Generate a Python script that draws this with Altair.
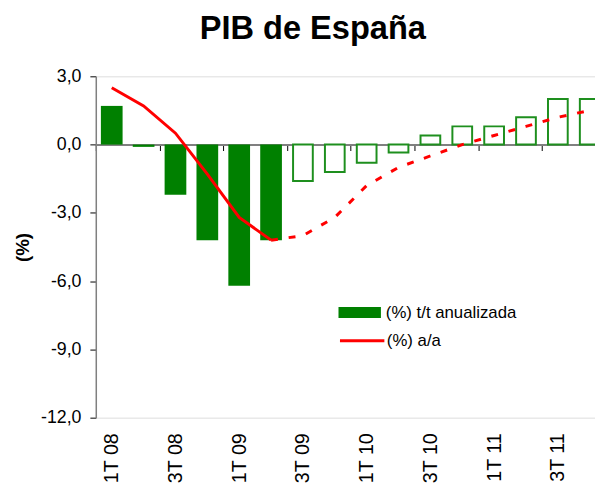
import altair as alt
import pandas as pd

# ---- data ----
quarters = ["1T 08", "2T 08", "3T 08", "4T 08", "1T 09", "2T 09", "3T 09", "4T 09",
            "1T 10", "2T 10", "3T 10", "4T 10", "1T 11", "2T 11", "3T 11", "4T 11"]
tt_anualizada = [1.7, -0.1, -2.2, -4.2, -6.2, -4.2, -1.6, -1.2,
                 -0.8, -0.35, 0.4, 0.8, 0.8, 1.2, 2.0, 2.0]
aa = [2.5, 1.7, 0.5, -1.3, -3.2, -4.2, -4.0, -3.2,
      -1.8, -1.0, -0.5, 0.0, 0.4, 0.8, 1.2, 1.5]
n_observed = 6  # 1T 08 .. 2T 09 observed, the rest forecast
label_tt = "(%) t/t anualizada"
label_aa = "(%) a/a"
tick_labels = quarters[::2]
y_ticks = [-12, -9, -6, -3, 0, 3]

df = pd.DataFrame({
    "quarter": quarters,
    "idx": list(range(len(quarters))),
    "tt": tt_anualizada,
    "aa": aa,
    "s_tt": label_tt,
    "s_aa": label_aa,
})

# ---- layout ----
W = 506          # visible plot width
H = 346          # plot height
STEP = 32.3      # category step
RANGE_END = STEP * len(quarters)
ZERO_OFFSET = -H * 12 / 15
FONT = "Liberation Sans"

yscale = alt.Scale(domain=[-12, 3], nice=False, zero=False)
label_expr = "replace(replace(format(datum.value, '.1f'), '.', ','), '\u2212', '-')"
yaxis = alt.Axis(values=y_ticks, labelExpr=label_expr, grid=False,
                 tickSize=6, tickColor="#000000", domainColor="#808080",
                 domainWidth=1.5, labelPadding=9, labelFontSize=18,
                 labelColor="#000000", labelFont=FONT,
                 titleFontSize=19, titleFont=FONT, titleFontWeight="bold",
                 titleColor="#000000", titleX=-74, titleY=H / 2,
                 titleAngle=270, titleBaseline="middle", titleAlign="center")

xaxis = alt.Axis(values=tick_labels, title=None, offset=ZERO_OFFSET,
                 domainColor="#808080", domainWidth=2,
                 ticks=True, tickColor="#000000", tickSize=6, tickWidth=1,
                 tickOffset=-STEP / 2, labelOffset=STEP / 2,
                 labelAngle=-90, labelFontSize=20, labelFont=FONT,
                 labelColor="#000000", labelPadding=286, labelOverlap=False)

x_enc = alt.X("quarter:N", sort=quarters,
              scale=alt.Scale(domain=quarters, range=[0, RANGE_END],
                              paddingInner=0, paddingOuter=0),
              axis=xaxis)

base = alt.Chart(df)

bars_obs = base.transform_filter(alt.datum.idx < n_observed).mark_bar(size=22).encode(
    x=x_enc,
    y=alt.Y("tt:Q", scale=yscale, axis=yaxis, title="(%)"),
    fill=alt.Fill("s_tt:N", scale=alt.Scale(domain=[label_tt], range=["#008000"]),
                  legend=alt.Legend(title=None, orient="none", legendX=246, legendY=218,
                                    symbolType="M-1,-0.26H1V0.26H-1Z", symbolSize=1849,
                                    symbolStrokeWidth=0, labelFontSize=17, labelFont=FONT,
                                    labelColor="#000000", labelOffset=5)),
)

bars_fc = base.transform_filter(alt.datum.idx >= n_observed).mark_bar(
    size=20, fill="#ffffff", stroke="#1e8f1e", strokeWidth=2
).encode(
    x=x_enc,
    y=alt.Y("tt:Q", scale=yscale, title="(%)"),
)

line_obs = base.transform_filter(alt.datum.idx < n_observed).mark_line(strokeWidth=3).encode(
    x=x_enc,
    y=alt.Y("aa:Q", scale=yscale, title="(%)"),
    stroke=alt.Stroke("s_aa:N", scale=alt.Scale(domain=[label_aa], range=["#ff0000"]),
                      legend=alt.Legend(title=None, orient="none", legendX=246, legendY=244,
                                        symbolType="stroke", symbolSize=2025,
                                        symbolStrokeWidth=3, labelFontSize=17, labelFont=FONT,
                                        labelColor="#000000", labelOffset=1)),
)

line_fc = base.transform_filter(alt.datum.idx >= n_observed - 1).mark_line(
    strokeWidth=3, color="#ff0000", strokeDash=[7, 11]
).encode(
    x=x_enc,
    y=alt.Y("aa:Q", scale=yscale, title="(%)"),
)

chart = alt.layer(bars_obs, bars_fc, line_obs, line_fc).properties(
    width=W, height=H,
    title=alt.TitleParams("PIB de España", fontSize=33, font=FONT, fontWeight="bold",
                          color="#000000", anchor="middle", dx=-33, offset=22),
    autosize=alt.AutoSizeParams(type="none"),
    padding={"left": 89, "top": 66, "right": 0, "bottom": 65},
).configure_view(stroke=None).configure(background="#ffffff")

chart.save("out.html", embed_options={"renderer": "svg", "actions": False})
